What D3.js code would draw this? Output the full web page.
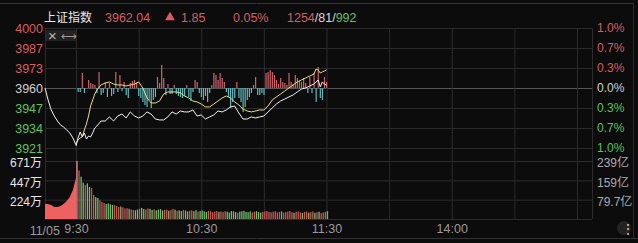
<!DOCTYPE html>
<html><head><meta charset="utf-8">
<script src="https://cdn.jsdelivr.net/npm/d3@7"></script>
<style>
html,body{margin:0;padding:0;background:#0c0c0c;overflow:hidden}
svg{display:block}
text{font-family:"Liberation Sans",Arial,"Noto Sans CJK SC",sans-serif}
</style></head><body>
<svg id="c" width="638" height="243"></svg>
<script>
// ---------- data ----------
const indexName = "上证指数";
const prevClose = 3960.19;
const lastPrice = "3962.04";
const change = "1.85";
const changePct = "0.05%";
const upFlatDown = ["1254", "81", "992"];
const dateLabel = "11/05";
const priceTickLabels = ["4000","3987","3973","3960","3947","3934","3921"];
const pctTickLabels = ["1.0%","0.7%","0.3%","0.0%","0.3%","0.7%","1.0%"];
const volTickValues = [671, 447, 224];
const volTickLabels = ["671万","447万","224万"];
const amtTickLabels = ["239亿","159亿","79.7亿"];
const timeLabels = ["9:30","10:30","11:30","14:00"];
const timeLabelMinutes = [0, 60, 120, 180];

// call auction 9:15-9:25 (minute offsets 0..10)
const auctionPrice = [3960.2,3952.3,3945.7,3941.7,3938.4,3935.8,3934.4,3932.5,3930.5,3927.2,3922.6];
const auctionVol = [174,174,162,139,139,150,174,208,255,336,474];

// index (white) minutes after 9:30 and values
const whiteMin = [0,1,2,3,4,5,6,7,8,9,10,12,14,16,18,20,22,24,26,28,30,32,34,36,38,40,42,44,46,48,50,52,54,56,58,60,62,64,66,68,70,72,74,76,78,80,82,84,86,88,90,92,94,96,98,100,102,104,106,108,110,112,114,116,117,118,119,120];
const whitePrice = [3921.9,3927.2,3931.2,3927.9,3930.5,3926.5,3928.5,3927.9,3930.5,3933.8,3935.1,3938.4,3938.4,3941.1,3938.4,3941.7,3943.0,3940.4,3944.4,3941.7,3940.4,3941.7,3944.4,3943.0,3939.7,3939.1,3939.1,3941.1,3944.4,3943.0,3945.0,3944.4,3944.4,3945.7,3941.7,3942.4,3939.7,3941.1,3942.4,3945.0,3944.4,3945.7,3947.7,3948.3,3943.7,3939.7,3939.7,3941.1,3940.4,3941.1,3941.7,3944.4,3947.0,3949.6,3951.6,3952.9,3954.3,3955.6,3957.6,3959.5,3960.2,3961.5,3962.8,3965.5,3960.9,3964.2,3962.8,3962.04];

// leading (yellow) line
const yellowMin = [0,1,2,3,4,5,6,7,8,9,10,12,14,16,18,20,22,24,26,28,30,32,34,36,38,40,42,44,46,48,50,52,54,56,58,60,62,64,66,68,70,72,74,76,78,80,82,84,86,88,90,92,94,96,98,100,102,104,106,108,110,112,114,115,116,117,118,119,120];
const yellowPrice = [3923.9,3925.9,3927.2,3927.9,3932.5,3936.4,3941.7,3948.3,3952.3,3956.2,3958.9,3962.2,3963.5,3964.2,3962.8,3962.2,3962.2,3961.5,3962.2,3962.8,3964.2,3960.2,3953.6,3950.3,3950.3,3951.6,3956.2,3957.6,3957.6,3957.6,3956.9,3954.9,3953.6,3951.6,3951.0,3949.6,3947.7,3947.7,3949.6,3951.6,3953.6,3954.9,3953.6,3951.0,3949.0,3946.3,3945.0,3944.4,3945.0,3945.7,3945.7,3948.3,3952.3,3954.3,3956.2,3958.2,3960.2,3962.2,3964.2,3965.5,3966.8,3968.1,3969.4,3972.7,3972.1,3970.1,3970.8,3971.4,3972.1];

// buy/sell strength bars per minute (positive red, negative cyan)
const strength = [0,-4,-4,15,-5,0,8,5,4,3,-5,16,-7,-5,6,-9,5,-8,-6,16,-4,13,-3,6,-7,-10,5,7,8,5,
 -8,-10,-14,-17,-19,-12,-20,-12,-9,11,5,23,10,-7,4,-6,-6,3,-6,-8,-9,-10,-8,3,-9,-13,-4,8,6,-5,
 -9,-12,-8,-14,-5,3,15,13,8,15,10,6,-4,-9,-20,-14,-10,6,-10,-14,-24,-19,-12,-9,-5,3,11,-7,-7,-5,
 -7,15,16,18,16,13,8,4,10,6,5,3,15,6,4,13,10,7,6,10,5,-5,11,-5,15,-14,21,-10,-12,11,6];

// volume per minute (万) and direction (r up / g down)
const volume = [671,560,490,420,393,413,370,358,278,255,243,215,197,185,173,180,170,162,160,150,139,145,135,123,125,118,110,104,100,110,
 120,128,115,110,122,118,105,112,100,108,115,98,105,110,96,102,118,108,95,100,92,105,98,88,95,100,90,102,85,92,
 98,88,80,95,90,78,86,92,82,88,80,90,85,75,92,88,80,72,86,90,95,82,78,88,76,84,90,80,74,82,
 88,92,80,78,85,90,76,82,88,74,80,86,92,78,72,84,88,76,70,82,86,74,80,88,72,78,84,68,76,82,90];
const volumeDir = "rrggrggrrggrrrggggrrrgrrrgrrggrggrrggrggggrrgrrgrggrggrrggrggggrrrrrgrrrgggggrggggggrrgggrrrrrrrrrgrrrrrgrrrgrrgrrgrgrrr";

// ---------- drawing ----------
const svg = d3.select("#c");
const L = 45, R = 592, T = 28, PB = 148, VB = 219;
const RED = "#d85e5e", GREEN = "#5cc25c", GRID = "#2b2b2b";

const x = d3.scaleLinear().domain([0, 240]).range([76, 577]);
const xa = d3.scaleLinear().domain([0, 10]).range([L, 76]);
const y = d3.scaleLinear().domain([prevClose * 0.99, prevClose * 1.01]).range([PB, T]);
const ys = d3.scaleLinear().domain([-60, 60]).range([PB, T]);
const yv = d3.scaleLinear().domain([0, 671]).range([VB, 161]);

const priceTickVals = priceTickLabels.map((_, i) => prevClose * (1.01 - i * 0.02 / 6));

// outer decoration lines
svg.append("line").attr("x1",0).attr("x2",633).attr("y1",3.5).attr("y2",3.5).attr("stroke","#333");
svg.append("line").attr("x1",633.5).attr("x2",633.5).attr("y1",3).attr("y2",238).attr("stroke","#2a2a2a");
svg.append("line").attr("x1",0).attr("x2",638).attr("y1",238.5).attr("y2",238.5).attr("stroke","#333");

// price grid via axis
const gPriceGrid = svg.append("g").attr("transform", `translate(${L},0)`)
  .call(d3.axisRight(y).tickValues(priceTickVals).tickSize(R - L).tickFormat(""));
gPriceGrid.select(".domain").remove();
gPriceGrid.selectAll(".tick line").attr("stroke", (d, i) => i === 3 ? "#565656" : GRID);

// volume grid
const gVolGrid = svg.append("g").attr("transform", `translate(${L},0)`)
  .call(d3.axisRight(yv).tickValues([0].concat(volTickValues)).tickSize(R - L).tickFormat(""));
gVolGrid.select(".domain").remove();
gVolGrid.selectAll(".tick line").attr("stroke", GRID);

// vertical grid
const gridMinutes = [0,30,60,90,120,150,180,210,240];
const gV = svg.append("g").attr("transform", `translate(0,${T})`)
  .call(d3.axisBottom(x).tickValues(gridMinutes).tickSize(VB - T).tickFormat(""));
gV.select(".domain").remove();
gV.selectAll(".tick line").attr("stroke", GRID);
[L, R].forEach(v => svg.append("line").attr("x1", v + 0.5).attr("x2", v + 0.5)
  .attr("y1", T).attr("y2", VB).attr("stroke", GRID));

// left price axis
const gL = svg.append("g").attr("transform", `translate(${L},0)`)
  .call(d3.axisLeft(y).tickValues(priceTickVals).tickSize(0).tickPadding(2)
  .tickFormat((d, i) => priceTickLabels[i]));
gL.select(".domain").remove();
gL.selectAll("text").attr("font-size", "12.5px")
  .attr("fill", (d, i) => i < 3 ? RED : i === 3 ? "#d0d0d0" : GREEN);

// right pct axis
const gR = svg.append("g").attr("transform", `translate(${R},0)`)
  .call(d3.axisRight(y).tickValues(priceTickVals).tickSize(0).tickPadding(5)
  .tickFormat((d, i) => pctTickLabels[i]));
gR.select(".domain").remove();
gR.selectAll("text").attr("font-size", "12px")
  .attr("fill", (d, i) => i < 3 ? RED : i === 3 ? "#d0d0d0" : GREEN);

// volume axes
const gVL = svg.append("g").attr("transform", `translate(${L},2)`)
  .call(d3.axisLeft(yv).tickValues(volTickValues).tickSize(0).tickPadding(3)
  .tickFormat((d, i) => volTickLabels[i]));
gVL.select(".domain").remove();
gVL.selectAll("text").attr("font-size", "12px").attr("fill", "#e6e6e6");
const gVR = svg.append("g").attr("transform", `translate(${R},2)`)
  .call(d3.axisRight(yv).tickValues(volTickValues).tickSize(0).tickPadding(5)
  .tickFormat((d, i) => amtTickLabels[i]));
gVR.select(".domain").remove();
gVR.selectAll("text").attr("font-size", "12px").attr("fill", "#ababab");

// time axis
const gT = svg.append("g").attr("transform", `translate(0,${VB})`)
  .call(d3.axisBottom(x).tickValues(timeLabelMinutes).tickSize(0).tickPadding(5)
  .tickFormat((d, i) => timeLabels[i]));
gT.select(".domain").remove();
gT.selectAll("text").attr("font-size", "12.5px").attr("fill", "#9a9a9a");
svg.append("text").attr("x", 60).attr("y", 234.5).attr("text-anchor", "end")
  .attr("font-size", "12.5px").attr("fill", "#9a9a9a").text(dateLabel);

// strength bars
svg.append("g").selectAll("rect").data(strength).join("rect")
  .attr("x", (d, i) => x(i) - 0.5).attr("width", 1.2)
  .attr("y", d => Math.min(ys(d), ys(0)))
  .attr("height", d => Math.abs(ys(d) - ys(0)))
  .attr("fill", d => d >= 0 ? "#d0636a" : "#5cbcc0");

// auction volume area
svg.append("path").datum(auctionVol)
  .attr("d", d3.area().x((d, i) => xa(i)).y0(yv(0)).y1(d => yv(d)))
  .attr("fill", "#ef6060");

// volume bars
svg.append("g").selectAll("rect").data(volume).join("rect")
  .attr("x", (d, i) => x(i) + 0.3).attr("width", 1.3)
  .attr("y", d => yv(d)).attr("height", d => yv(0) - yv(d))
  .attr("fill", (d, i) => i === 0 ? "#f09090" : volumeDir[i] === "r" ? "#c95858" : "#6fbf6f");

// lines
const line = d3.line().x(d => d[0]).y(d => d[1]);
svg.append("path")
  .datum(auctionPrice.map((p, i) => [xa(i), y(p)]))
  .attr("d", line).attr("fill", "none").attr("stroke", "#f2f2f2").attr("stroke-width", 1);
svg.append("path")
  .datum(yellowMin.map((m, i) => [x(m), y(yellowPrice[i])]))
  .attr("d", line).attr("fill", "none").attr("stroke", "#e6e07a").attr("stroke-width", 1);
svg.append("path")
  .datum(whiteMin.map((m, i) => [x(m), y(whitePrice[i])]))
  .attr("d", line).attr("fill", "none").attr("stroke", "#f2f2f2").attr("stroke-width", 1);

// auction toolbar
svg.append("rect").attr("x", 46).attr("y", 30).attr("width", 30).attr("height", 11).attr("fill", "#222");
svg.append("text").attr("x", 52.5).attr("y", 40.5).attr("text-anchor", "middle")
  .attr("font-size", "15px").attr("fill", "#b8b8b8").text("×");
svg.append("text").attr("x", 68.5).attr("y", 39.5).attr("text-anchor", "middle")
  .attr("font-size", "11px").attr("fill", "#9a9a9a").text("⟷");

// header
const hy = 21.5;
svg.append("text").attr("x", 44).attr("y", hy).attr("font-size", "12px")
  .attr("font-family", "'Noto Sans CJK SC',sans-serif").attr("fill", "#e8e8e8").text(indexName);
svg.append("text").attr("x", 105).attr("y", hy).attr("font-size", "12.5px").attr("fill", RED).text(lastPrice);
svg.append("path").attr("d", d3.symbol(d3.symbolTriangle, 42)())
  .attr("transform", "translate(170,17.5)").attr("fill", "#e05a5a");
svg.append("text").attr("x", 181).attr("y", hy).attr("font-size", "12.5px").attr("fill", RED).text(change);
svg.append("text").attr("x", 233).attr("y", hy).attr("font-size", "12.5px").attr("fill", RED).text(changePct);
const ud = svg.append("text").attr("x", 287).attr("y", hy).attr("font-size", "12.5px");
ud.append("tspan").attr("fill", RED).text(upFlatDown[0]);
ud.append("tspan").attr("fill", "#d8d8d8").text("/" + upFlatDown[1] + "/");
ud.append("tspan").attr("fill", GREEN).text(upFlatDown[2]);

// bottom-right icon
svg.append("circle").attr("cx", 624).attr("cy", 228).attr("r", 7).attr("fill", "#3a3a3a").attr("opacity", 0.5);
svg.append("text").attr("x", 628).attr("y", 233).attr("text-anchor", "middle")
  .attr("font-size", "12px").attr("fill", "#e0e0e0").text("⋮");
</script>
</body></html>
